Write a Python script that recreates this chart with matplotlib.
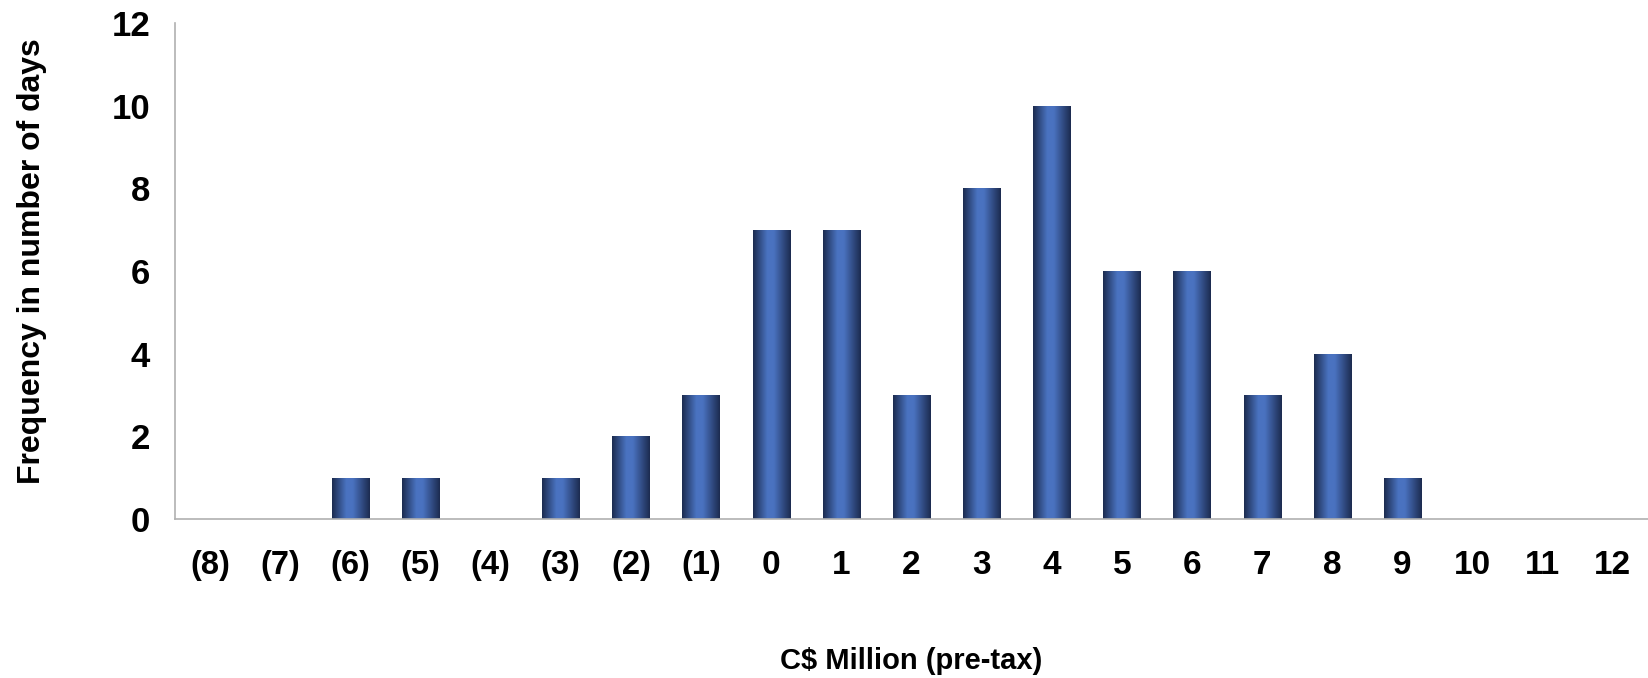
import numpy as np
import matplotlib
matplotlib.use("Agg")
import matplotlib.pyplot as plt
from matplotlib import font_manager
from matplotlib.colors import LinearSegmentedColormap

categories = ["(8)", "(7)", "(6)", "(5)", "(4)", "(3)", "(2)", "(1)", "0", "1", "2",
              "3", "4", "5", "6", "7", "8", "9", "10", "11", "12"]
frequency = [0, 0, 1, 1, 0, 1, 2, 3, 7, 7, 3, 8, 10, 6, 6, 3, 4, 1, 0, 0, 0]
y_ticks = [0, 2, 4, 6, 8, 10, 12]

installed = {f.name for f in font_manager.fontManager.ttflist}
main_font = "Liberation Sans" if "Liberation Sans" in installed else "DejaVu Sans"
narrow_font = "Liberation Sans Narrow" if "Liberation Sans Narrow" in installed else main_font
plt.rcParams["font.family"] = main_font

fig = plt.figure(figsize=(16.48, 6.78), dpi=100)
ax = fig.add_axes([0.1062, 0.2345, 0.8938, 0.7316])

x = np.arange(len(categories))
bars = ax.bar(x, frequency, width=0.53, color="#4a72c0", zorder=2)

# horizontal shading: dark edges, light band just left of centre
shade = LinearSegmentedColormap.from_list(
    "barshade", [(0.0, "#1c2b4f"), (0.38, "#4a73c1"), (0.55, "#4a72c0"), (1.0, "#1c2b4f")])
grad = np.linspace(0, 1, 256).reshape(1, -1)
for b in bars:
    if b.get_height() <= 0:
        continue
    x0, y0 = b.get_x(), b.get_y()
    im = ax.imshow(grad, cmap=shade, aspect="auto", zorder=3,
                   extent=(x0, x0 + b.get_width(), y0, y0 + b.get_height()))
    im.set_clip_path(b)

ax.set_xlim(-0.5, len(categories) - 0.5)
ax.set_ylim(0, 12)
ax.set_yticks(y_ticks)
ax.set_yticklabels([str(v) for v in y_ticks], fontsize=25, fontweight="bold")
ax.set_xticks(x)
ax.set_xticklabels(categories, fontsize=24, fontweight="bold")
for lbl in ax.get_xticklabels():
    if lbl.get_text().startswith("("):
        lbl.set_fontfamily(narrow_font)
        lbl.set_fontsize(23.5)
ax.tick_params(axis="y", length=0, pad=18)
ax.tick_params(axis="x", length=0, pad=22)

for side in ("top", "right"):
    ax.spines[side].set_visible(False)
for side in ("left", "bottom"):
    ax.spines[side].set_color("#b0b0b0")
    ax.spines[side].set_linewidth(1.2)
    ax.spines[side].set_zorder(4)

fig.text(0.0195, 0.615, "Frequency in number of days", rotation=90, ha="center", va="center",
         fontsize=23, fontweight="bold")
fig.text(0.553, 0.025, "C$ Million (pre-tax)", ha="center", va="center",
         fontsize=21, fontweight="bold")

ax.set_facecolor("white")
fig.savefig("out.png", dpi=100, facecolor="white")
